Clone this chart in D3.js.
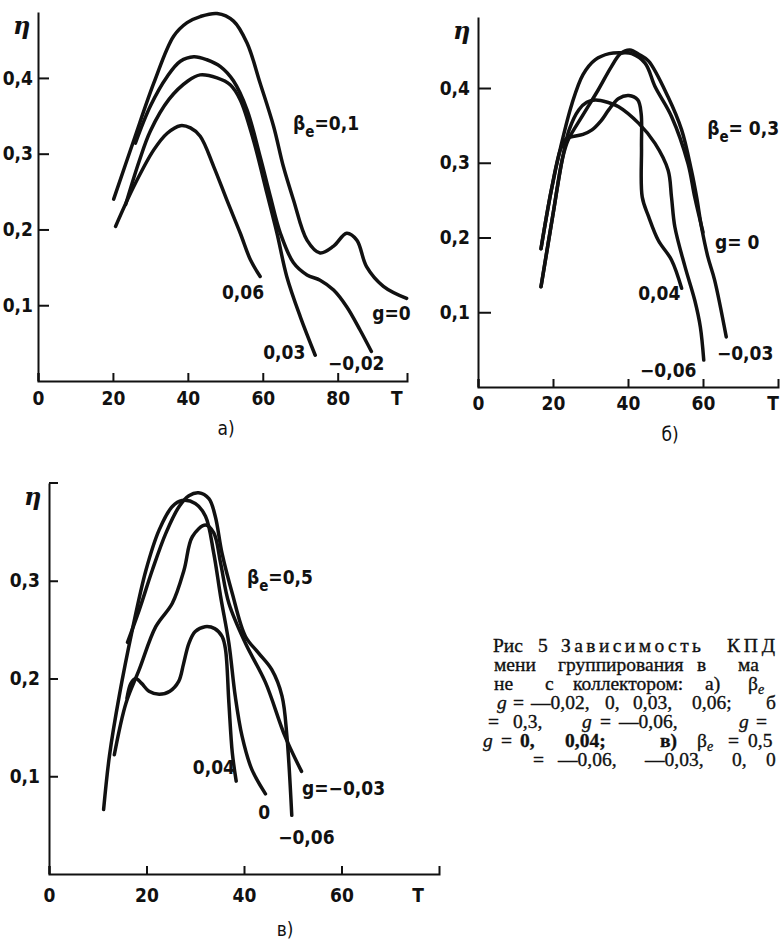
<!DOCTYPE html>
<html lang="ru">
<head>
<meta charset="UTF-8">
<title>Зависимость КПД от времени группирования</title>
<script src="https://cdn.jsdelivr.net/npm/d3@7/dist/d3.min.js"></script>
<style>
  body { margin: 0; background: #fff; }
  svg { display: block; background: #fff; }
  .axis path, .axis line { stroke: #111; stroke-width: 2; fill: none; }
  .axis text, .lbl {
    font-family: "DejaVu Sans Condensed", "Liberation Sans Narrow", "DejaVu Sans", sans-serif;
    font-weight: bold;
    font-size: 19px;
    fill: #111;
  }
  .eta { font-family: "DejaVu Serif", serif; font-style: italic; font-weight: bold; font-size: 24px; fill: #111; }
  .curve { fill: none; stroke: #111; stroke-width: 3.5; stroke-linecap: round; stroke-linejoin: round; }
  .caption { font-family: "Liberation Serif", "DejaVu Serif", serif; font-size: 19.5px; fill: #111; stroke: #111; stroke-width: 0.35; }
</style>
</head>
<body>
<div id="chart"></div>
<script>
  // tick values
  var xTicksA = [0, 20, 40, 60, 80];
  var xTicksB = [0, 20, 40, 60];
  var xTicksC = [0, 20, 40, 60];
  var yTicksA = [0.1, 0.2, 0.3, 0.4];
  var yTicksB = [0.1, 0.2, 0.3, 0.4];
  var yTicksC = [0.1, 0.2, 0.3];

  // а) beta_e = 0,1   [T, eta]
  var a_g0 = [[20.2,0.240],[25.6,0.318],[30.9,0.393],[36.2,0.455],[39.8,0.473],[43.3,0.481],[47.8,0.485],
    [52.2,0.475],[55.8,0.446],[59.3,0.393],[62.9,0.336],[65.5,0.283],[68.2,0.239],[71.8,0.186],[75.3,0.169],
    [78.9,0.178],[82.4,0.195],[85.1,0.186],[87.7,0.151],[92.2,0.125],[98.4,0.109]];
  var a_m002 = [[26.0,0.314],[30.0,0.363],[34.5,0.402],[38.0,0.422],[41.6,0.428],[45.1,0.424],[48.7,0.415],
    [52.2,0.396],[55.8,0.358],[59.3,0.296],[62.0,0.244],[64.7,0.195],[68.2,0.156],[71.8,0.140],[75.3,0.133],
    [78.9,0.120],[82.4,0.098],[86.0,0.067],[89.0,0.039]];
  var a_003 = [[23.4,0.233],[27.0,0.290],[30.0,0.330],[35.0,0.372],[40.0,0.396],[43.3,0.404],[47.8,0.400],
    [51.3,0.391],[54.0,0.371],[57.5,0.318],[61.1,0.248],[63.8,0.195],[66.4,0.138],[70.0,0.085],[74.0,0.034]];
  var a_006 = [[20.7,0.204],[25.6,0.257],[30.9,0.305],[34.5,0.327],[38.0,0.337],[40.7,0.334],[43.3,0.323],
    [46.9,0.283],[50.4,0.239],[54.0,0.195],[56.7,0.160],[59.3,0.138]];

  // б) beta_e = 0,3
  var b_g0 = [[16.8,0.185],[19.5,0.262],[22.0,0.320],[25.0,0.378],[28.0,0.418],[31.3,0.438],[35.0,0.446],
    [38.5,0.447],[41.0,0.446],[44.6,0.433],[47.2,0.402],[51.6,0.362],[56.0,0.299],[57.8,0.254],[60.0,0.207]];
  var b_m003 = [[16.8,0.134],[19.9,0.228],[22.5,0.305],[24.0,0.330],[28.0,0.364],[32.0,0.397],[35.5,0.428],
    [38.0,0.446],[40.5,0.451],[43.2,0.444],[45.5,0.436],[50.7,0.388],[54.3,0.344],[56.9,0.290],[58.3,0.254],
    [59.6,0.214],[61.3,0.174],[63.1,0.143],[66.2,0.067]];
  var b_m006 = [[16.8,0.134],[19.9,0.228],[22.5,0.305],[24.3,0.344],[26.9,0.371],[29.0,0.381],[31.3,0.384],
    [34.5,0.381],[37.5,0.375],[42.8,0.353],[47.2,0.326],[50.7,0.290],[51.6,0.254],[52.5,0.214],[55.2,0.161],
    [57.8,0.116],[59.3,0.080],[60.2,0.036]];
  var b_004 = [[16.8,0.185],[19.5,0.262],[22.0,0.318],[23.5,0.332],[25.2,0.335],[28.0,0.338],[30.4,0.344],
    [32.8,0.356],[34.9,0.371],[37.5,0.386],[40.2,0.390],[42.6,0.384],[43.5,0.366],[43.6,0.320],[43.8,0.254],
    [45.5,0.228],[48.1,0.196],[51.6,0.170],[54.3,0.132]];

  // в) beta_e = 0,5
  var c_m006 = [[16.1,0.237],[18.5,0.270],[21.2,0.311],[24.0,0.349],[26.7,0.376],[28.7,0.387],[30.7,0.390],
    [32.8,0.384],[34.1,0.366],[35.5,0.328],[37.6,0.287],[40.3,0.243],[43.0,0.226],[45.7,0.209],[47.8,0.182],
    [48.8,0.141],[49.8,0.060]];
  var c_g0 = [[11.2,0.066],[12.4,0.121],[14.4,0.182],[17.1,0.250],[19.9,0.311],[22.6,0.352],[25.3,0.376],
    [27.3,0.382],[30.0,0.379],[32.1,0.366],[33.8,0.328],[35.2,0.284],[36.9,0.236],[38.2,0.182],[39.6,0.141],
    [41.6,0.107],[44.4,0.082]];
  var c_m003 = [[13.4,0.122],[15.8,0.175],[18.5,0.209],[21.9,0.253],[25.3,0.277],[27.7,0.311],[29.4,0.345],
    [32.1,0.357],[33.8,0.349],[35.2,0.318],[36.9,0.277],[40.3,0.236],[44.4,0.196],[48.4,0.141],[51.8,0.105]];
  var c_004 = [[16.0,0.180],[16.8,0.195],[17.8,0.200],[19.0,0.195],[20.5,0.187],[22.6,0.184],[24.8,0.187],
    [26.6,0.197],[27.6,0.215],[28.7,0.236],[30.0,0.248],[32.0,0.253],[34.0,0.251],[35.5,0.243],[36.2,0.230],
    [36.9,0.175],[37.6,0.124],[38.4,0.095]];

  // caption words as far as the print shows them (it is cut by the page edge); "β_e" = β with subscript e
  var captionLines = [
    ["Рис", "5", "Зависимость", "КПД"],
    ["мени", "группирования", "в", "ма"],
    ["не", "с", "коллектором:", "а)", "β_e"],
    ["g", "=", "—0,02,", "0,", "0,03,", "0,06;", "б"],
    ["=", "0,3,", "g", "=", "—0,06,", "g", "="],
    ["g", "=", "0,", "0,04;", "в)", "β_e", "=", "0,5"],
    ["=", "—0,06,", "—0,03,", "0,", "0"]
  ];

  var W = 781, H = 940;
  var svg = d3.select("#chart").append("svg").attr("width", W).attr("height", H);
  var fmt = function(d) { return d === 0 ? "0" : d3.format(".1f")(d).replace(".", ","); };

  var panels = [
    { xDomain: [0, 98.5], xRange: [38, 407], yDomain: [0, 0.487], yRange: [381, 12],
      xTicks: xTicksA, yTicks: yTicksA, xPad: 11, yPad: 5, yTick: 11, tAt: 95.8,
      letter: "а)", letterX: 226, letterDy: 54,
      curves: [a_g0, a_m002, a_003, a_006],
      labels: [
        { t: 68.1, e: 0.331, beta: "=0,1" },
        { t: 49.1, e: 0.108, text: "0,06" },
        { t: 60.1, e: 0.029, text: "0,03" },
        { t: 77.4, e: 0.0145, text: "−0,02" },
        { t: 89.2, e: 0.0805, text: "g=0" }
      ] },
    { xDomain: [0, 80], xRange: [478, 778], yDomain: [0, 0.495], yRange: [387, 17],
      xTicks: xTicksB, yTicks: yTicksB, xPad: 10, yPad: 8, yTick: 13, tAt: 78.7,
      letter: "б)", letterX: 670, letterDy: 54,
      curves: [b_g0, b_m003, b_m006, b_004],
      labels: [
        { t: 61.1, e: 0.337, beta: "= 0,3" },
        { t: 63.2, e: 0.185, text: "g= 0" },
        { t: 42.7, e: 0.116, text: "0,04" },
        { t: 63.7, e: 0.036, text: "−0,03" },
        { t: 43.2, e: 0.013, text: "−0,06" }
      ] },
    { xDomain: [0, 80], xRange: [49, 439], yDomain: [0, 0.4], yRange: [874, 483],
      xTicks: xTicksC, yTicks: yTicksC, xPad: 15, yPad: 9, yTick: 9, tAt: 75.7,
      letter: "в)", letterX: 285, letterDy: 62,
      hook: true,
      curves: [c_m006, c_g0, c_m003, c_004],
      labels: [
        { t: 40.6, e: 0.297, beta: "=0,5" },
        { t: 29.5, e: 0.102, text: "0,04" },
        { t: 42.9, e: 0.056, text: "0" },
        { t: 51.9, e: 0.081, text: "g=−0,03" },
        { t: 47.0, e: 0.031, text: "−0,06" }
      ] }
  ];

  panels.forEach(function(p) {
    var x = d3.scaleLinear().domain(p.xDomain).range(p.xRange);
    var y = d3.scaleLinear().domain(p.yDomain).range(p.yRange);
    var g = svg.append("g");

    g.append("g").attr("class", "axis")
      .attr("transform", "translate(0," + p.yRange[0] + ")")
      .call(d3.axisBottom(x).tickValues(p.xTicks).tickSizeInner(-8).tickSizeOuter(-8)
        .tickPadding(p.xPad).tickFormat(d3.format("d")));

    g.append("g").attr("class", "axis")
      .attr("transform", "translate(" + p.xRange[0] + ",0)")
      .call(d3.axisLeft(y).tickValues(p.yTicks).tickSizeInner(-p.yTick).tickSizeOuter(0)
        .tickPadding(p.yPad).tickFormat(fmt));

    if (p.hook) {
      g.append("line")
        .attr("x1", p.xRange[0]).attr("x2", p.xRange[0] + 9)
        .attr("y1", p.yRange[1]).attr("y2", p.yRange[1])
        .style("stroke", "#111").style("stroke-width", 2);
    }

    g.append("text").attr("class", "lbl")
      .attr("x", x(p.tAt)).attr("y", p.yRange[0] + p.xPad).attr("dy", "0.71em")
      .attr("text-anchor", "middle").text("T");

    g.append("text").attr("class", "eta")
      .attr("x", p.xRange[0] - 25).attr("y", p.yRange[1] + 22).text("η");

    g.append("text").attr("class", "lbl").style("font-weight", "normal")
      .attr("x", p.letterX).attr("y", p.yRange[0] + p.letterDy)
      .attr("text-anchor", "middle").text(p.letter);

    var line = d3.line()
      .x(function(d) { return x(d[0]); })
      .y(function(d) { return y(d[1]); })
      .curve(d3.curveCatmullRom.alpha(0.5));

    g.selectAll("path.curve").data(p.curves).enter()
      .append("path").attr("class", "curve").attr("d", line);

    p.labels.forEach(function(l) {
      var t = g.append("text").attr("class", "lbl").attr("x", x(l.t)).attr("y", y(l.e));
      if (l.beta) {
        t.append("tspan").text("β");
        t.append("tspan").attr("dy", 7).style("font-size", "15px").text("e");
        t.append("tspan").attr("dy", -7).text(l.beta);
      } else {
        t.text(l.text);
      }
    });
  });

  // caption layout: where each word starts in the justified print (first line is letter-spaced)
  var capX = [
    [493, 538, 561, 727],
    [494, 558, 697, 738],
    [494, 545, 573, 705, 748],
    [497, 513, 531, 605, 633, 692, 766],
    [488, 513, 582, 600, 619, 739, 756],
    [483, 501, 520, 565, 660, 697, 728, 748],
    [533, 558, 645, 732, 766]
  ];
  var spacedWidth = { "Зависимость": 140, "КПД": 48 };
  var capY0 = 652, capDy = 19;
  var cap = svg.append("g").attr("class", "caption");
  captionLines.forEach(function(words, i) {
    var base = capY0 + i * capDy;
    var t = cap.append("text").attr("y", base);
    words.forEach(function(w, j) {
      if (w === "β_e") {
        t.append("tspan").attr("x", capX[i][j]).attr("y", base).text("β");
        t.append("tspan").attr("y", base + 4).style("font-style", "italic").style("font-size", "14px").text("e");
        return;
      }
      var s = t.append("tspan").attr("x", capX[i][j]).attr("y", base).text(w);
      if (spacedWidth[w]) s.attr("textLength", spacedWidth[w]).attr("lengthAdjust", "spacing");
      if (w === "g") s.style("font-style", "italic");
      if (i === 5 && (j === 2 || j === 3 || j === 4)) s.style("font-weight", "bold");
    });
  });
</script>
</body>
</html>
